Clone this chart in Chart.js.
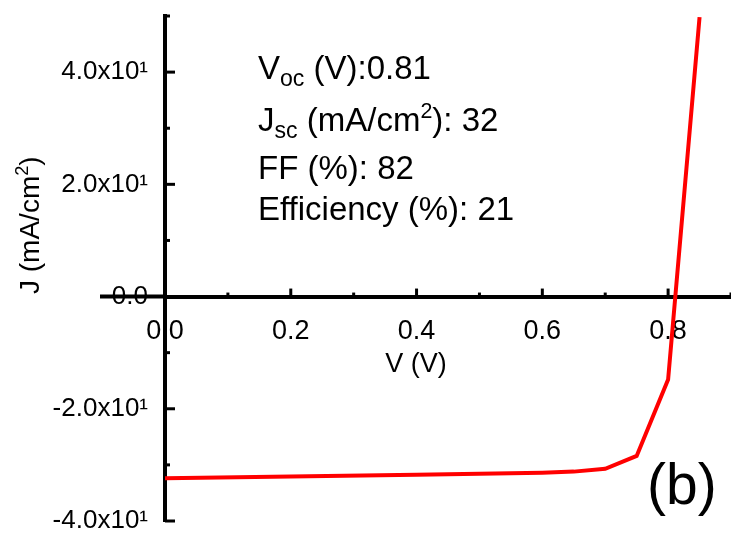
<!DOCTYPE html>
<html>
<head>
<meta charset="utf-8">
<script src="https://cdn.jsdelivr.net/npm/chart.js@4.4.0/dist/chart.umd.min.js"></script>
<style>
  html, body { margin: 0; padding: 0; background: #fff; }
  #wrap { width: 731px; height: 541px; }
</style>
</head>
<body>
<div id="wrap"><canvas id="jvChart" width="731" height="541"></canvas></div>
<script>
// J-V curve values
const voltage = [0, 0.2, 0.4, 0.6, 0.65, 0.7, 0.75, 0.8, 0.85];
const currentDensity = [-32.4, -32.05, -31.75, -31.4, -31.2, -30.7, -28.4, -14.8, 49.8];

// tick labels
const xTickValues = [0, 0.2, 0.4, 0.6, 0.8];
const xTickLabels = ["0.0", "0.2", "0.4", "0.6", "0.8"];
const yTickValues = [-40, -20, 0, 20, 40];
const yTickLabels = ["-4.0x10¹", "-2.0x10¹", "0.0", "2.0x10¹", "4.0x10¹"];

// cell parameters, split in runs so sub/superscripts can be drawn
const cellParams = [
  [["V", ""], ["oc", "sub"], [" (V):0.81", ""]],
  [["J", ""], ["sc", "sub"], [" (mA/cm", ""], ["2", "sup"], ["): 32", ""]],
  [["FF (%): 82", ""]],
  [["Efficiency (%): 21", ""]],
];

const FONT = "'Liberation Sans', Arial, sans-serif";

function drawRich(ctx, runs, x, y, size) {
  let cx = x;
  ctx.textAlign = "left";
  runs.forEach(([txt, kind]) => {
    let s = size, dy = 0;
    if (kind === "sub") { s = size * 0.7; dy = size * 0.22; }
    if (kind === "sup") { s = size * 0.65; dy = -size * 0.38; }
    ctx.font = `${s}px ${FONT}`;
    ctx.fillText(txt, cx, y + dy);
    cx += ctx.measureText(txt).width;
  });
}

// inward ticks, extended x axis line and the free text
const extras = {
  id: "extras",
  afterDraw(chart) {
    const { ctx, scales: { x, y } } = chart;
    const x0 = x.getPixelForValue(0);
    const y0 = y.getPixelForValue(0);
    ctx.save();
    ctx.strokeStyle = "#000";
    ctx.lineWidth = 4;
    ctx.beginPath();
    ctx.moveTo(100, y0);
    ctx.lineTo(x0, y0);
    ctx.stroke();

    ctx.lineWidth = 3;
    for (let i = -4; i <= 5; i++) {
      const py = y.getPixelForValue(i * 10);
      const len = i % 2 === 0 ? 10 : 5;
      ctx.beginPath();
      ctx.moveTo(x0, py);
      ctx.lineTo(x0 + len, py);
      ctx.stroke();
    }
    for (let i = 1; i <= 9; i++) {
      const px = x.getPixelForValue(i / 10);
      const len = i % 2 === 0 ? 8 : 4;
      ctx.beginPath();
      ctx.moveTo(px, y0);
      ctx.lineTo(px, y0 - len);
      ctx.stroke();
    }

    ctx.fillStyle = "#000";
    ctx.textBaseline = "alphabetic";
    const baselines = [79, 131, 179, 220];
    cellParams.forEach((runs, i) => drawRich(ctx, runs, 258, baselines[i], 33));

    // axis titles
    ctx.font = `27px ${FONT}`;
    ctx.textAlign = "center";
    ctx.fillText("V (V)", 416, 372);

    ctx.save();
    ctx.translate(39, 294);
    ctx.rotate(-Math.PI / 2);
    drawRich(ctx, [["J (mA/cm", ""], ["2", "sup"], [")", ""]], 0, 0, 28);
    ctx.restore();

    ctx.textAlign = "left";
    ctx.font = `57px ${FONT}`;
    ctx.fillText("(b)", 647, 504);
    ctx.restore();
  },
};

new Chart(document.getElementById("jvChart").getContext("2d"), {
  type: "line",
  data: {
    datasets: [
      {
        data: voltage.map((v, i) => ({ x: v, y: currentDensity[i] })),
        borderColor: "#ff0000",
        borderWidth: 4,
        pointRadius: 0,
        tension: 0,
        fill: false,
      },
    ],
  },
  options: {
    responsive: false,
    animation: false,
    layout: { padding: { top: 16, bottom: 20, left: 0, right: 0 } },
    plugins: { legend: { display: false }, tooltip: { enabled: false } },
    scales: {
      x: {
        type: "linear",
        position: { y: 0 },
        min: 0,
        max: 0.9,
        afterFit: (s) => { s.paddingLeft = 0; s.paddingRight = 0; },
        grid: { display: false },
        border: { display: true, color: "#000", width: 4 },
        ticks: {
          stepSize: 0.1,
          padding: 11,
          color: "#000",
          font: { family: FONT, size: 27 },
          maxRotation: 0,
          autoSkip: false,
          callback: (v) => {
            const i = xTickValues.indexOf(Math.round(v * 10) / 10);
            return i >= 0 ? xTickLabels[i] : "";
          },
        },
      },
      y: {
        type: "linear",
        position: "left",
        min: -40,
        max: 50,
        afterFit: (s) => { s.width = 165; s.paddingTop = 0; s.paddingBottom = 0; },
        grid: { display: false },
        border: { display: true, color: "#000", width: 4 },
        ticks: {
          stepSize: 10,
          padding: 9,
          color: "#000",
          font: { family: FONT, size: 26 },
          autoSkip: false,
          callback: (v) => {
            const i = yTickValues.indexOf(v);
            return i >= 0 ? yTickLabels[i] : "";
          },
        },
      },
    },
  },
  plugins: [extras],
});
</script>
</body>
</html>
